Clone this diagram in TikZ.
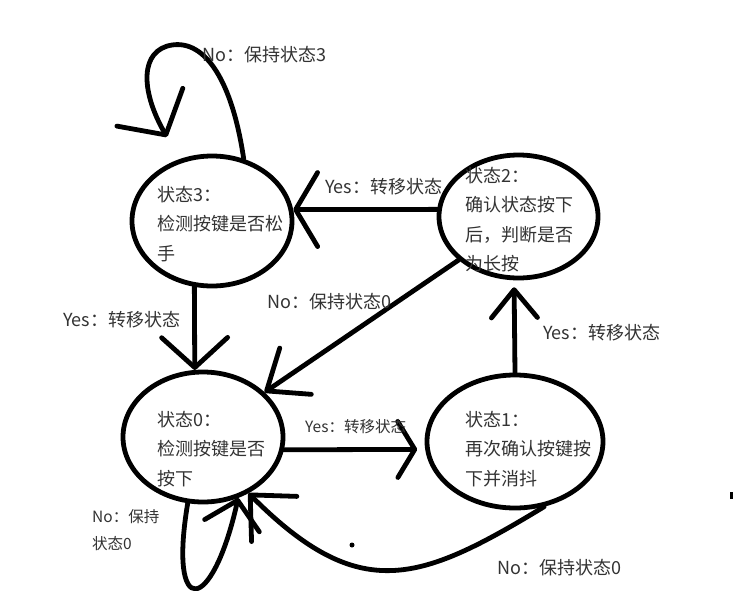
\documentclass[tikz,border=0pt]{standalone}
\usepackage{fontspec}
\newfontfamily\cjk{Noto Sans CJK SC}
\usetikzlibrary{shapes.geometric,arrows.meta}
\tikzset{
  state/.style={draw,ellipse,line width=4.8pt,inner sep=0pt},
  link/.style={line width=4.8pt,line cap=round,line join=round},
  barbtip/.style 2 args={-{Straight Barb[round,length=#1,width=#2]}},
  statetext/.style={font=\cjk\fontsize{18}{29.5}\selectfont,text=black!80,align=left,anchor=north west,inner sep=0pt},
  edgetext/.style={font=\cjk\fontsize{18}{22}\selectfont,text=black!80,anchor=west,inner sep=0pt},
  smalltext/.style={edgetext,font=\cjk\fontsize{15.5}{27}\selectfont,align=left},
}
\begin{document}
\begin{tikzpicture}[x=1pt,y=-1pt]
  \fill[white] (0,0) rectangle (733,590);
  \useasboundingbox (0,0) rectangle (733,590);

  \node[state,minimum width=160pt,minimum height=130pt] (s3) at (212,221) {};
  \node[state,minimum width=159pt,minimum height=123pt] (s2) at (518.5,216.5) {};
  \node[state,minimum width=160pt,minimum height=130pt] (s0) at (203,437) {};
  \node[state,minimum width=176pt,minimum height=133pt] (s1) at (515,441.5) {};
  \coordinate (l3) at (167,137);

  \node[statetext] (t3) at (157,186) {状态3：\\检测按键是否松\\手};
  \node[statetext] (t2) at (465,167) {状态2：\\确认状态按下\\后，判断是否\\为长按};
  \node[statetext] (t0) at (157,411) {状态0：\\检测按键是否\\按下};
  \node[statetext] (t1) at (465,411) {状态1：\\再次确认按键按\\下并消抖};

  \draw[link,barbtip={22pt}{74pt}] (s2.175) -- (s3.8);
  \draw[link,barbtip={30pt}{66pt}] (s3.255) -- (s0.97);
  \draw[link,barbtip={35pt}{56pt}] (s2.216) -- (s0.36);
  \draw[link,barbtip={17pt}{56pt},shorten >=8pt] (s0.351) -- (s1.185);
  \draw[link,barbtip={28pt}{46pt},shorten >=7pt] (s1.north) -- (s2.266);
  \draw[link,barbtip={32pt}{76pt}] (s3.63) .. controls (232,80) and (205,40) .. (172,45)
    .. controls (140,50) and (140,90) .. (l3);
  \draw[link,barbtip={26pt}{56pt}] (s0.257) .. controls (168,620) and (212,615) .. (s0.300);
  \draw[link,barbtip={34pt}{64pt}] (s1.294) .. controls (420,582) and (360,605) .. (s0.309);

  \node[edgetext] (l33) at (202,55) {No：保持状态3};
  \node[edgetext] (l23) at (325,187) {Yes：转移状态};
  \node[edgetext] (l20) at (267,302) {No：保持状态0};
  \node[edgetext] (l30) at (63,320) {Yes：转移状态};
  \node[edgetext] (l12) at (543,333) {Yes：转移状态};
  \node[edgetext,font=\cjk\fontsize{15.5}{18}\selectfont] (l01) at (305,427) {Yes：转移状态};
  \node[smalltext] (l00) at (92,530) {No：保持\\状态0};
  \node[edgetext] (l10) at (497,568) {No：保持状态0};

  \fill (352,545) circle (2.5);
  \fill (730,492) rectangle (733,499);
\end{tikzpicture}
\end{document}
